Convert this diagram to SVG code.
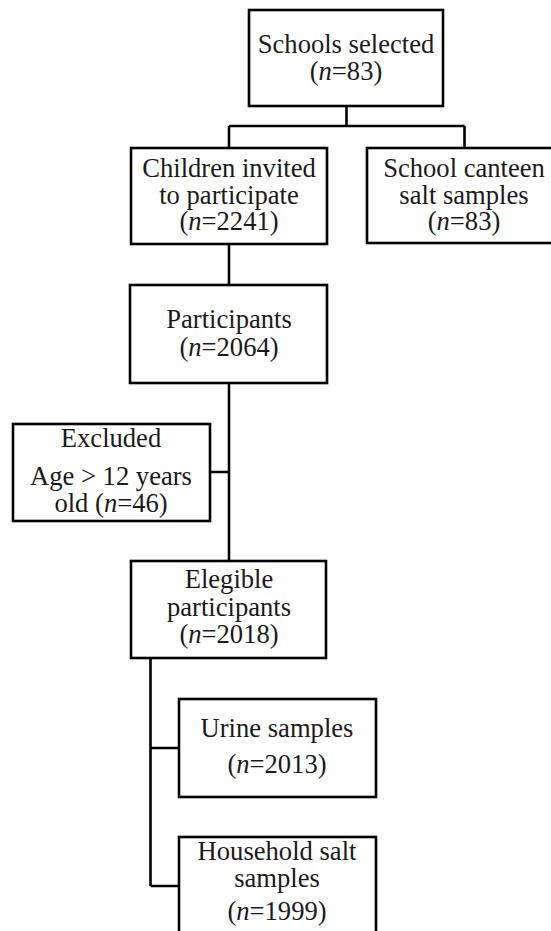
<svg xmlns="http://www.w3.org/2000/svg" width="551" height="931" viewBox="0 0 551 931">
<style>
.box{fill:#fff;stroke:#000;stroke-width:2.6}
.ln{fill:none;stroke:#000;stroke-width:2.6}
text{font-family:"Liberation Serif","Times New Roman",serif;font-size:26.6px;fill:#1a1a1a;text-anchor:middle}
.i{font-style:italic}
</style>
<rect width="551" height="931" fill="#fff"/>
<g id="connectors">
<path class="ln" d="M346.5 106V126M229 126H464.5M229 126V148M464.5 126V148"/>
<path class="ln" d="M229 244V285"/>
<path class="ln" d="M229 383V561M210 472H229"/>
<path class="ln" d="M150.5 658V886M150.5 748H179M150.5 886H179"/>
</g>
<g id="schools">
<rect class="box" x="249" y="10" width="194" height="96"/>
<text x="346" y="53">Schools selected</text>
<text x="346" y="80">(<tspan class="i">n</tspan>=83)</text>
</g>
<g id="children">
<rect class="box" x="131" y="148" width="196" height="96"/>
<text x="229" y="177">Children invited</text>
<text x="229" y="204">to participate</text>
<text x="229" y="230">(<tspan class="i">n</tspan>=2241)</text>
</g>
<g id="canteen">
<rect class="box" x="367" y="148" width="196" height="95"/>
<text x="464" y="177">School canteen</text>
<text x="464" y="204">salt samples</text>
<text x="464" y="230">(<tspan class="i">n</tspan>=83)</text>
</g>
<g id="participants">
<rect class="box" x="130" y="285" width="197" height="98"/>
<text x="229" y="328">Participants</text>
<text x="229" y="356">(<tspan class="i">n</tspan>=2064)</text>
</g>
<g id="excluded">
<rect class="box" x="13" y="424" width="197" height="97"/>
<text x="111" y="447">Excluded</text>
<text x="111" y="485">Age &gt; 12 years</text>
<text x="111" y="512">old (<tspan class="i">n</tspan>=46)</text>
</g>
<g id="eligible">
<rect class="box" x="131" y="561" width="195" height="97"/>
<text x="229" y="588">Elegible</text>
<text x="229" y="616">participants</text>
<text x="229" y="643">(<tspan class="i">n</tspan>=2018)</text>
</g>
<g id="urine">
<rect class="box" x="179" y="699" width="197" height="98"/>
<text x="277" y="737">Urine samples</text>
<text x="277" y="773">(<tspan class="i">n</tspan>=2013)</text>
</g>
<g id="household">
<rect class="box" x="179" y="837" width="197" height="110"/>
<text x="277" y="860">Household salt</text>
<text x="277" y="887">samples</text>
<text x="277" y="920">(<tspan class="i">n</tspan>=1999)</text>
</g>
</svg>
